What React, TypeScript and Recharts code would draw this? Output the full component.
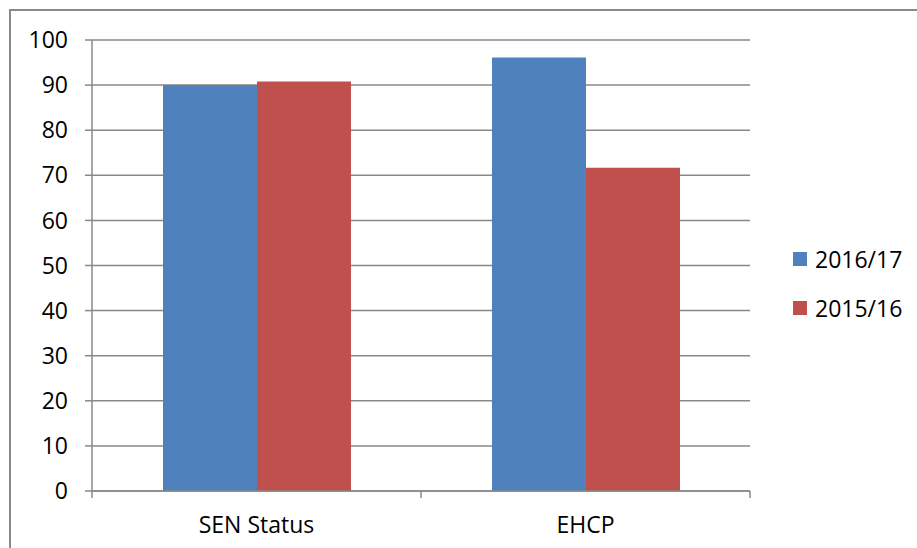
import React from "react";
import { BarChart, Bar, XAxis, YAxis, CartesianGrid } from "recharts";

const categories = ["SEN Status", "EHCP"];
const series2016_17 = [90.0, 96.1];
const series2015_16 = [90.8, 71.7];
const yTicks = [0, 10, 20, 30, 40, 50, 60, 70, 80, 90, 100];
const seriesNames = ["2016/17", "2015/16"];
const seriesColors = ["#4F81BD", "#C0504D"];

const data = categories.map((c, i) => ({
  name: c,
  a: series2016_17[i],
  b: series2015_16[i],
}));

const FONT = "'Open Sans', sans-serif";
const FS = 23;
const AXIS = "#888";

const LegendBox = () => (
  <div style={{ position: "absolute", left: 793, top: 234, fontFamily: FONT, fontSize: FS, color: "#000" }}>
    {seriesNames.map((n, i) => (
      <div key={n} style={{ display: "flex", alignItems: "center", height: 49, whiteSpace: "nowrap" }}>
        <div style={{ width: 14, height: 14, background: seriesColors[i], marginRight: 8 }} />
        <span>{n}</span>
      </div>
    ))}
  </div>
);

const CategoryTick = (props: any) => {
  const { x, y, payload, index, visibleTicksCount } = props;
  const half = payload && payload.offset ? payload.offset : 0;
  const isLast = index === (visibleTicksCount ?? categories.length) - 1;
  return (
    <g>
      <line x1={x - half} x2={x - half} y1={y} y2={y + 7} stroke={AXIS} strokeWidth={1.5} />
      {isLast && (
        <line x1={x + half} x2={x + half} y1={y} y2={y + 7} stroke={AXIS} strokeWidth={1.5} />
      )}
      <text x={x} y={y + 41.5} textAnchor="middle" fill="#000" fontSize={FS} fontFamily={FONT}>
        {payload.value}
      </text>
    </g>
  );
};

export default function App() {
  return (
    <div style={{ position: "absolute", left: 0, top: 0, width: 917, height: 548, overflow: "hidden", background: "#fff" }}>
      <div
        style={{
          position: "absolute",
          left: 9,
          top: 9,
          width: 1000,
          height: 1000,
          border: "2px solid #8a8a8a",
          boxSizing: "border-box",
        }}
      />
      <div style={{ position: "absolute", left: 0, top: 0 }}>
        <BarChart
          width={917}
          height={548}
          data={data}
          margin={{ top: 40, right: 167, left: 0, bottom: 0 }}
          barCategoryGap={71}
          barGap={0}
        >
          <CartesianGrid vertical={false} stroke={AXIS} strokeWidth={1.5} />
          <XAxis
            dataKey="name"
            height={57}
            stroke={AXIS}
            strokeWidth={1.5}
            tickLine={false}
            tickSize={0}
            tickMargin={0}
            interval={0}
            tick={CategoryTick}
          />
          <YAxis
            width={92}
            domain={[0, 100]}
            ticks={yTicks}
            interval={0}
            stroke={AXIS}
            strokeWidth={1.5}
            tickSize={7}
            tickMargin={17}
            tick={{ fill: "#000", fontSize: FS, fontFamily: FONT }}
          />
          <Bar dataKey="a" name={seriesNames[0]} fill={seriesColors[0]} isAnimationActive={false} />
          <Bar dataKey="b" name={seriesNames[1]} fill={seriesColors[1]} isAnimationActive={false} />
        </BarChart>
      </div>
      <LegendBox />
    </div>
  );
}
